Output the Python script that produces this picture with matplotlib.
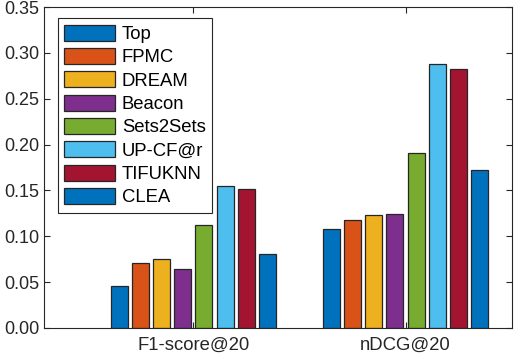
import matplotlib
matplotlib.use("Agg")
import matplotlib.pyplot as plt
import numpy as np

categories = ["F1-score@20", "nDCG@20"]
methods = ["Top", "FPMC", "DREAM", "Beacon", "Sets2Sets", "UP-CF@r", "TIFUKNN", "CLEA"]
f1_values = [0.0454, 0.0704, 0.0752, 0.0647, 0.1123, 0.1544, 0.1519, 0.0803]
ndcg_values = [0.1080, 0.1174, 0.1229, 0.1240, 0.1908, 0.2883, 0.2821, 0.1720]
colors = ["#0072BD", "#D95319", "#EDB120", "#7E2F8E", "#77AC30", "#4DBEEE", "#A2142F", "#0072BD"]
yticks = [0.00, 0.05, 0.10, 0.15, 0.20, 0.25, 0.30, 0.35]

plt.rcParams['font.family'] = ['Liberation Sans', 'DejaVu Sans']
txt = "#262626"

fig = plt.figure(figsize=(5.14, 3.55), dpi=100)
ax = fig.add_axes([44/514, 27/355, (512-44)/514, (328-7)/355])

x = np.arange(1, len(categories) + 1)
pitch = 0.1
width = 0.08
values = np.array([f1_values, ndcg_values])
for i, (m, c) in enumerate(zip(methods, colors)):
    offs = (i - (len(methods) - 1) / 2) * pitch
    ax.bar(x + offs, values[:, i], width=width, color=c, edgecolor="#262626",
           linewidth=0.9, label=m, zorder=2)

ax.set_xlim(0.296, 2.502)
ax.set_ylim(0, 0.35)
ax.set_xticks(x)
ax.set_xticklabels(categories, fontsize=13.3)
ax.set_yticks(yticks)
ax.set_yticklabels([f"{v:.2f}" for v in yticks], fontsize=13)
ax.tick_params(direction="in", length=4, width=0.8, colors=txt,
               top=True, right=True, labelcolor=txt)
ax.tick_params(axis="x", pad=6)
for s in ax.spines.values():
    s.set_color(txt)
    s.set_linewidth(0.8)

leg = ax.legend(loc="upper left", bbox_to_anchor=((57.7-44)/468, 1 - (18.3-7)/321),
                borderaxespad=0, fontsize=13.3, handlelength=2.75, handleheight=0.95,
                handletextpad=0.37, labelspacing=0.27, borderpad=0.35,
                fancybox=False, framealpha=1, edgecolor=txt)
leg.get_frame().set_linewidth(0.8)
for t in leg.get_texts():
    t.set_color("black")

fig.savefig("out.png", dpi=100)
